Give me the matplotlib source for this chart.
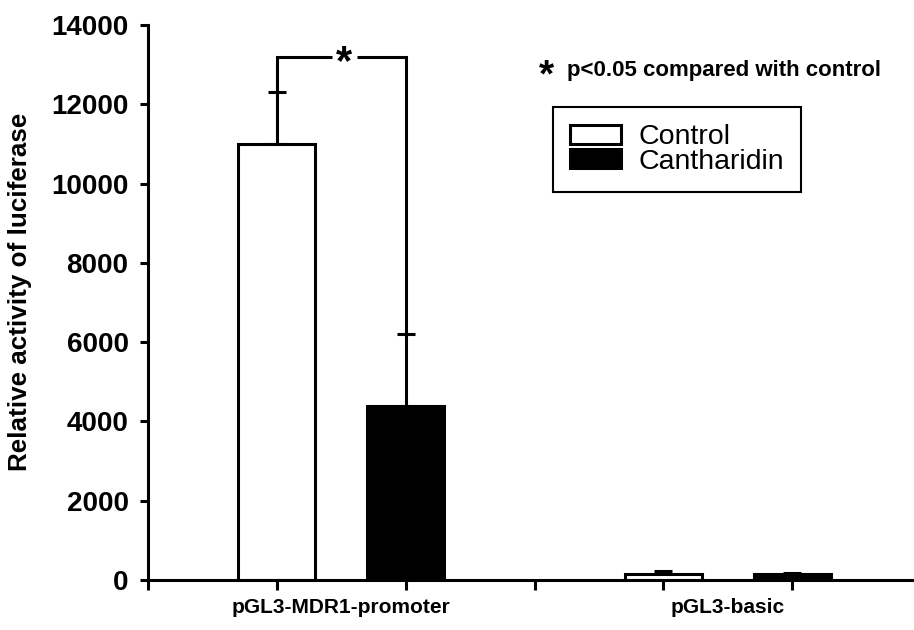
import matplotlib
matplotlib.use("Agg")
import matplotlib.pyplot as plt
from matplotlib.ticker import FixedLocator, NullFormatter, FixedFormatter

# ---- data ----
groups = ["pGL3-MDR1-promoter", "pGL3-basic"]
series = ["Control", "Cantharidin"]
control_vals = [11000, 150]
control_err = [1300, 65]
canth_vals = [4400, 150]
canth_err = [1800, 30]
bracket_y = 13200
yticks = [0, 2000, 4000, 6000, 8000, 10000, 12000, 14000]

# positions
ctrl_pos = [0, 3]
canth_pos = [1, 4]
group_pos = [0.5, 3.5]
major_ticks = [-1, 0, 1, 2, 3, 4]

plt.rcParams['font.family'] = ['Liberation Sans', 'DejaVu Sans']

fig = plt.figure(figsize=(9.14, 6.30), dpi=100)
ax = fig.add_axes([148/914, 50/630, (912-148)/914, 555/630])

lw = 2.2
b1 = ax.bar(ctrl_pos, control_vals, width=0.6, color='white', edgecolor='black',
            linewidth=lw, label=series[0], zorder=2)
b2 = ax.bar(canth_pos, canth_vals, width=0.6, color='black', edgecolor='black',
            linewidth=lw, label=series[1], zorder=2)
ax.errorbar(ctrl_pos, control_vals, yerr=[[0]*len(control_err), control_err],
            fmt='none', ecolor='black', elinewidth=lw, capsize=6.5, capthick=lw, zorder=1)
ax.errorbar(canth_pos, canth_vals, yerr=[[0]*len(canth_err), canth_err],
            fmt='none', ecolor='black', elinewidth=lw, capsize=6.5, capthick=lw, zorder=1)

# significance bracket
top_c = control_vals[0] + control_err[0]
top_k = canth_vals[0] + canth_err[0]
ax.plot([ctrl_pos[0], ctrl_pos[0], 0.43], [top_c, bracket_y, bracket_y],
        color='black', lw=lw, solid_capstyle='butt', solid_joinstyle='miter')
ax.plot([0.625, canth_pos[0], canth_pos[0]], [bracket_y, bracket_y, top_k],
        color='black', lw=lw, solid_capstyle='butt', solid_joinstyle='miter')
ax.text(0.525, bracket_y - 170, "*", ha='center', va='center', fontsize=30,
        fontweight='bold', color='black')

# annotation
ax.text(2.09, 12700, "*", ha='center', va='center', fontsize=28,
        fontweight='bold', color='black')
ax.text(2.254, 12710, "p<0.05 compared with control", ha='left', va='baseline',
        fontsize=16, fontweight='bold', color='black')

ax.set_xlim(-1, 4.93)
ax.set_ylim(0, 14000)

for s in ['top', 'right']:
    ax.spines[s].set_visible(False)
for s in ['left', 'bottom']:
    ax.spines[s].set_linewidth(lw)

ax.set_yticks(yticks)
ax.set_yticklabels([str(v) for v in yticks], fontsize=20, fontweight='bold')
ax.tick_params(axis='y', length=6, width=lw, pad=8)

ax.xaxis.set_major_locator(FixedLocator(major_ticks))
ax.xaxis.set_major_formatter(NullFormatter())
ax.xaxis.set_minor_locator(FixedLocator(group_pos))
ax.xaxis.set_minor_formatter(FixedFormatter(groups))
ax.tick_params(axis='x', which='major', length=7, width=lw)
ax.tick_params(axis='x', which='minor', length=0, pad=13, labelsize=15)
for t in ax.xaxis.get_minorticklabels():
    t.set_fontweight('bold')

ax.set_ylabel("Relative activity of luciferase", fontsize=18.7, fontweight='bold',
              va='center')
ax.yaxis.set_label_coords(-0.1675, 0.52)

leg = ax.legend(handles=[b1, b2], labels=series, loc='upper left',
                bbox_to_anchor=(0.530, 0.852), borderaxespad=0, frameon=True,
                fancybox=False, edgecolor='black', framealpha=1,
                prop={'family': 'Liberation Sans', 'size': 20.5},
                handlelength=1.8, handleheight=0.65, labelspacing=-0.05,
                handletextpad=0.6, borderpad=0.6)
leg.get_frame().set_linewidth(1.5)

fig.savefig("out.png", dpi=100)
